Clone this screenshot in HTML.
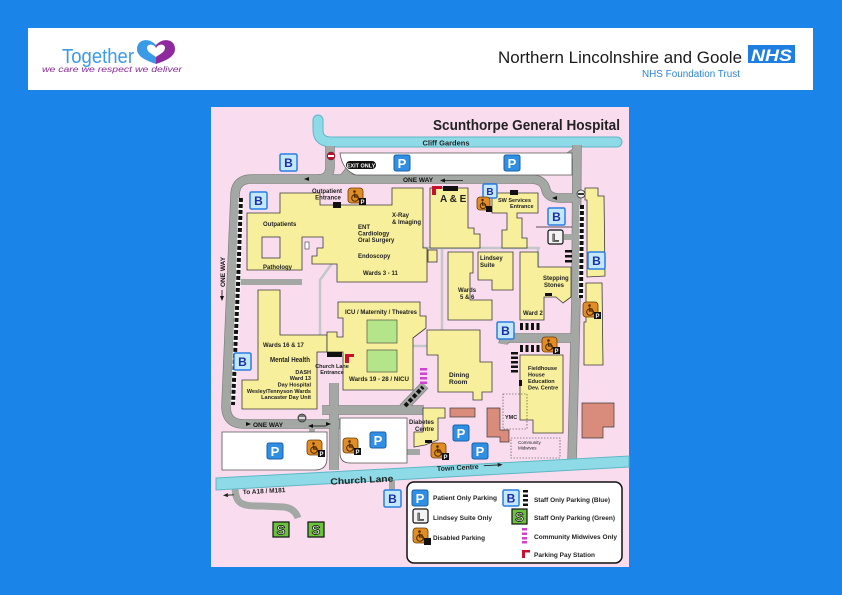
<!DOCTYPE html>
<html><head><meta charset="utf-8">
<style>
html,body{margin:0;padding:0;background:#1b84e8;}
svg{display:block;}
text{font-family:"Liberation Sans",Arial,sans-serif;}
</style></head><body>
<svg width="842" height="595" viewBox="0 0 842 595" xmlns="http://www.w3.org/2000/svg">
<rect width="842" height="595" fill="#1b84e8"/>
<!-- Header -->
<rect x="28" y="28" width="785" height="62" fill="#ffffff"/>
<text x="62" y="63" font-size="20" fill="#3b9be8" textLength="72" lengthAdjust="spacingAndGlyphs">Together</text>
<path d="M156,45 C149,37 137,39 137,49 C137,57 147,61 156,64 Z" fill="#3a9ae6"/>
<path d="M156,45 C163,37 175,39 175,49 C175,57 165,61 156,64 Z" fill="#8e2a9e"/>
<path d="M156,48 C153,43 147,44 147,48 C147,52 152,54 156,57 C160,54 165,52 165,48 C165,44 159,43 156,48 Z" fill="#fff"/>
<text x="42" y="72" font-size="8.5" font-style="italic" fill="#8b2a9b" textLength="140" lengthAdjust="spacingAndGlyphs">we care  we respect  we deliver</text>
<text x="498" y="63" font-size="17" fill="#1a1a1a" textLength="244" lengthAdjust="spacingAndGlyphs">Northern Lincolnshire and Goole</text>
<rect x="748" y="45" width="47" height="18" fill="#1e7fe0"/>
<text x="751" y="61" font-size="17" font-weight="bold" font-style="italic" fill="#fff" textLength="41" lengthAdjust="spacingAndGlyphs">NHS</text>
<text x="642" y="77" font-size="10" fill="#2a83db" textLength="98" lengthAdjust="spacingAndGlyphs">NHS Foundation Trust</text>

<!-- Map background -->
<rect x="211" y="107" width="418" height="460" fill="#f9ddef"/>
<text x="433" y="130" font-size="14.5" font-weight="bold" fill="#222" textLength="187" lengthAdjust="spacingAndGlyphs">Scunthorpe General Hospital</text>

<!-- Cliff Gardens -->
<path d="M318,120 L318,130 Q318,142 332,142 L617,142" fill="none" stroke="#5fb6c6" stroke-width="11" stroke-linecap="round"/>
<path d="M318,120 L318,130 Q318,142 332,142 L617,142" fill="none" stroke="#8edbe7" stroke-width="9" stroke-linecap="round"/>
<text x="446" y="145.5" font-size="7.5" font-weight="bold" fill="#222" text-anchor="middle">Cliff Gardens</text>

<!-- Gray roads -->
<g fill="none" stroke="#7f8481" stroke-width="9.5" stroke-linejoin="round">
<path d="M530,179 L252,179 Q235,179 235,196 L226,406 Q226,424 244,424 L345,424"/>
<path d="M530,179 Q544,179 546,190 Q548,198 560,198 L577,198"/>
<path d="M577,145 L576,300 L572,462"/>
<path d="M330,146 L330,168 Q329,179 318,179"/>
<path d="M343,179 L353,166"/>
<path d="M576,152 L560,163"/>
<path d="M576,338 L512,338 Q504,338 503,344"/>
<path d="M334,383 L334,470"/>
<path d="M322,410 L424,410"/>
<path d="M403,408 L425,385"/>
</g>
<g fill="none" stroke="#a3a8a5" stroke-width="8" stroke-linejoin="round">
<path d="M530,179 L252,179 Q235,179 235,196 L226,406 Q226,424 244,424 L345,424"/>
<path d="M530,179 Q544,179 546,190 Q548,198 560,198 L577,198"/>
<path d="M577,145 L576,300 L572,462"/>
<path d="M330,146 L330,168 Q329,179 318,179"/>
<path d="M343,179 L353,166"/>
<path d="M576,152 L560,163"/>
<path d="M576,338 L512,338 Q504,338 503,344"/>
<path d="M334,383 L334,470"/>
<path d="M322,410 L424,410"/>
<path d="M403,408 L425,385"/>
</g>
<g fill="none" stroke="#a3a8a5" stroke-width="6">
<path d="M234,282 L302,282"/>
<path d="M564,237 L575,237"/>
<path d="M392,474 L392,490"/>
<path d="M405,452 L420,452"/>
<path d="M312,426 L312,436"/>
<path d="M235,486 C235,505 242,506 262,506 L284,507 C292,508 296,512 298,518" stroke-width="7"/>
</g>
<!-- staff dashes along roads -->
<g fill="none">
<path d="M241,198 L238,285 L233,405" stroke="#fff" stroke-width="5"/>
<path d="M241,198 L238,285 L233,405" stroke="#111" stroke-width="4" stroke-dasharray="4 2"/>
<path d="M582,205 L581,298" stroke="#fff" stroke-width="5"/>
<path d="M582,205 L581,298" stroke="#111" stroke-width="4" stroke-dasharray="4 2"/>
<path d="M405,406 L423,387" stroke="#111" stroke-width="4" stroke-dasharray="4 2"/>
</g>

<!-- Parking areas -->
<path d="M340,153 L572,153 L572,175 L356,175 Q342,170 340,153 Z" fill="#fff" stroke="#555" stroke-width="0.8"/>
<path d="M222,432 L327,432 L327,458 Q327,470 315,470 L222,470 Z" fill="#fff" stroke="#555" stroke-width="0.8"/>
<path d="M340,418 L407,418 L407,463 L350,463 Q340,463 340,453 Z" fill="#fff" stroke="#555" stroke-width="0.8"/>

<!-- Church Lane -->
<polygon points="216,478 629,456 629,467 216,490" fill="#8edbe7" stroke="#5fb6c6" stroke-width="1"/>
<g transform="rotate(-3 420 472)">
<text x="242" y="485" font-size="6.5" font-weight="bold" fill="#222">To A18 / M181</text>
<text x="330" y="480" font-size="9" font-weight="bold" fill="#222" textLength="63" lengthAdjust="spacingAndGlyphs">Church Lane</text>
<text x="437" y="472" font-size="7" font-weight="bold" fill="#222">Town Centre</text>
<path d="M484,469 L501,469" stroke="#222" stroke-width="0.9"/>
<polygon points="503,469 498,467 498,471" fill="#222"/>
<path d="M224,485 L233,485" stroke="#222" stroke-width="0.9"/>
<polygon points="222,485 227,483 227,487" fill="#222"/>
</g>

<!-- Corridors -->
<g fill="none" stroke="#c4c7c8" stroke-width="2.5">
<path d="M337,205 L337,227 L348,227 L348,248"/>
<path d="M337,248 L540,248"/>
<path d="M442,248 L442,380"/>
<path d="M513,213 L513,248"/>
<path d="M538,248 L538,275"/>
<path d="M341,251 L320,280 L320,346"/>
<path d="M317,346 L478,346"/>
<path d="M428,248 L428,262"/>
</g>

<!-- Buildings -->
<g fill="#f7ef9b" stroke="#3a3a3a" stroke-width="0.8" stroke-linejoin="miter">
<polygon points="280,193 320,193 320,205 392,205 392,188 423,188 423,248 427,248 427,282 337,282 337,264 312,264 312,256 317,256 317,248 323,248 323,237 302,237 302,270 247,270 247,213 280,213"/>
<polygon points="430,188 468,188 468,228 474,228 474,234 480,234 480,248 430,248"/>
<rect x="428" y="250" width="9" height="12"/>
<polygon points="492,193 538,193 538,213 517,213 517,218 522,218 522,238 527,238 527,248 502,248 502,230 507,230 507,213 492,213"/>
<polygon points="478,252 513,252 513,290 492,290 492,280 478,280"/>
<polygon points="448,252 473,252 473,273 470,273 470,300 492,300 492,320 448,320"/>
<polygon points="520,252 538,252 538,267 571,267 571,297 563,303 556,297 544,297 544,320 520,320"/>
<polygon points="585,188 598,188 598,196 604,196 605,276 587,277 587,200 585,200"/>
<polygon points="586,283 602,283 603,365 584,365 584,322 586,322"/>
<polygon points="258,290 280,290 280,335 327,335 327,352 317,352 317,409 242,409 242,380 258,380"/>
<polygon points="338,302 420,302 420,316 426,316 426,328 413,338 413,390 343,390 343,352 327,352 327,332 337,332 337,337 343,337 343,318 338,318"/>
<polygon points="427,330 480,330 480,362 492,362 492,392 482,392 482,400 473,400 473,392 438,392 438,355 427,355"/>
<polygon points="520,355 563,355 563,433 533,433 533,420 520,420"/>
<polygon points="423,408 445,408 445,418 438,418 438,440 425,445 414,447 414,432 423,432"/>
</g>
<rect x="262" y="237" width="18" height="21" fill="#f9ddef" stroke="#3a3a3a" stroke-width="0.8"/>
<rect x="305" y="242" width="4" height="7" fill="#fff" stroke="#3a3a3a" stroke-width="0.6"/>
<!-- green courtyards -->
<rect x="367" y="320" width="30" height="23" fill="#b5e58a" stroke="#3a3a3a" stroke-width="0.6"/>
<rect x="367" y="350" width="30" height="22" fill="#b5e58a" stroke="#3a3a3a" stroke-width="0.6"/>
<!-- salmon buildings -->
<g fill="#d98c7c" stroke="#3a3a3a" stroke-width="0.7">
<rect x="450" y="408" width="25" height="9"/>
<polygon points="487,408 500,408 500,430 509,430 509,442 500,442 500,437 487,437"/>
<polygon points="582,403 614,403 614,427 603,427 603,438 582,438"/>
</g>
<!-- dotted boxes -->
<rect x="503" y="394" width="24" height="35" fill="none" stroke="#333" stroke-width="0.6" stroke-dasharray="1.5 1.5"/>
<rect x="511" y="438" width="49" height="20" fill="none" stroke="#333" stroke-width="0.6" stroke-dasharray="1.5 1.5"/>
<line x1="536" y1="227" x2="572" y2="227" stroke="#222" stroke-width="0.7"/>

<!-- staff bars -->
<g fill="#111">
<rect x="565" y="250" width="7" height="2.5"/><rect x="565" y="255" width="7" height="2.5"/><rect x="565" y="260" width="7" height="2.5"/>
<rect x="520" y="323" width="3" height="7"/><rect x="525.5" y="323" width="3" height="7"/><rect x="531" y="323" width="3" height="7"/><rect x="536.5" y="323" width="3" height="7"/>
<rect x="520" y="345" width="3" height="7"/><rect x="525.5" y="345" width="3" height="7"/><rect x="531" y="345" width="3" height="7"/><rect x="536.5" y="345" width="3" height="7"/>
<rect x="511" y="352" width="7" height="2.5"/><rect x="511" y="356.5" width="7" height="2.5"/><rect x="511" y="361" width="7" height="2.5"/><rect x="511" y="365.5" width="7" height="2.5"/><rect x="511" y="370" width="7" height="2.5"/>
<!-- entrances -->
<rect x="443" y="186" width="15" height="5"/>
<rect x="333" y="202" width="8" height="6"/>
<rect x="510" y="190" width="8" height="5"/>
<rect x="327" y="352" width="15" height="5"/>
<rect x="425" y="440" width="7" height="3"/>
<rect x="545" y="293" width="7" height="3"/>
<rect x="519" y="380" width="3" height="6"/>
</g>
<!-- magenta midwives -->
<g fill="#d23fd2">
<rect x="420" y="368" width="7" height="2.5"/><rect x="420" y="372.5" width="7" height="2.5"/><rect x="420" y="377" width="7" height="2.5"/><rect x="420" y="381.5" width="7" height="2.5"/>
</g>
<!-- pay stations -->
<g fill="#c8102e">
<rect x="432" y="186" width="4" height="9"/><rect x="432" y="186" width="10" height="3"/>
<rect x="345" y="354" width="4" height="9"/><rect x="345" y="354" width="9" height="3"/>
</g>
<!-- no entry signs -->
<circle cx="331" cy="156" r="4" fill="#c8102e" stroke="#333" stroke-width="0.5"/><rect x="328" y="155" width="6" height="2" fill="#fff"/>
<circle cx="581" cy="194" r="4" fill="#eee" stroke="#333" stroke-width="0.8"/><rect x="578" y="193" width="6" height="2" fill="#333"/>
<circle cx="302" cy="418" r="4" fill="#777" stroke="#333" stroke-width="0.8"/><rect x="299" y="417" width="6" height="2" fill="#ddd"/>

<!-- EXIT ONLY -->
<rect x="346" y="161" width="30" height="8" rx="4" fill="#111"/>
<text x="361" y="167.3" font-size="5.5" font-weight="bold" fill="#fff" text-anchor="middle">EXIT ONLY</text>

<!-- ONE WAY labels -->
<text x="403" y="182" font-size="6.5" font-weight="bold" fill="#111">ONE WAY</text>
<path d="M442,180.5 L463,180.5" stroke="#111" stroke-width="0.8"/><polygon points="440,180.5 445,178.5 445,182.5" fill="#111"/>
<polygon points="304,179 309,177 309,181" fill="#111"/>
<polygon points="552,198 557,196 557,200" fill="#111"/>
<text x="253" y="427" font-size="6.5" font-weight="bold" fill="#111">ONE WAY</text>
<polygon points="251,424 246,422 246,426" fill="#111"/>
<path d="M310,426 L326,426" stroke="#111" stroke-width="0.8"/><polygon points="308,426 313,424 313,428" fill="#111"/>
<polygon points="331,424 326,422 326,426" fill="#111"/>
<text transform="translate(225,287) rotate(-90)" font-size="6.5" font-weight="bold" fill="#111">ONE WAY</text>
<path d="M222,290 L222,299" stroke="#111" stroke-width="0.8"/><polygon points="222,301 220,296 224,296" fill="#111"/>

<!-- Building labels -->
<g font-size="6" font-weight="bold" fill="#222">
<text x="327" y="193" text-anchor="middle">Outpatient</text>
<text x="328" y="199.5" text-anchor="middle">Entrance</text>
<text x="263" y="226">Outpatients</text>
<text x="263" y="269">Pathology</text>
<text x="392" y="217">X-Ray</text>
<text x="392" y="224">&amp; Imaging</text>
<text x="358" y="229">ENT</text>
<text x="358" y="235.5">Cardiology</text>
<text x="358" y="242">Oral Surgery</text>
<text x="358" y="258">Endoscopy</text>
<text x="363" y="275">Wards 3 - 11</text>
<text x="440" y="202" font-size="10">A &amp; E</text>
<text x="498" y="202" font-size="5.5">SW Services</text>
<text x="510" y="208" font-size="5.5">Entrance</text>
<text x="480" y="260">Lindsey</text>
<text x="480" y="267">Suite</text>
<text x="458" y="292">Wards</text>
<text x="460" y="299">5 &amp; 6</text>
<text x="543" y="280">Stepping</text>
<text x="544" y="287">Stones</text>
<text x="523" y="315">Ward 2</text>
<text x="345" y="314" textLength="72" lengthAdjust="spacingAndGlyphs">ICU / Maternity / Theatres</text>
<text x="263" y="347">Wards 16 &amp; 17</text>
<text x="270" y="362" font-size="7.5" textLength="40" lengthAdjust="spacingAndGlyphs">Mental Health</text>
<text x="311" y="374" text-anchor="end" font-size="5.5">DASH</text>
<text x="311" y="380" text-anchor="end" font-size="5.5">Ward 13</text>
<text x="311" y="386.5" text-anchor="end" font-size="5.5">Day Hospital</text>
<text x="311" y="393" text-anchor="end" font-size="5.5">Wesley/Tennyson Wards</text>
<text x="311" y="399" text-anchor="end" font-size="5.5">Lancaster Day Unit</text>
<text x="332" y="368" text-anchor="middle" font-size="5.5">Church Lane</text>
<text x="332" y="374" text-anchor="middle" font-size="5.5">Entrance</text>
<text x="349" y="381" textLength="60" lengthAdjust="spacingAndGlyphs">Wards 19 - 28 / NICU</text>
<text x="449" y="377" font-size="6.5">Dining</text>
<text x="449" y="384" font-size="6.5">Room</text>
<text x="528" y="370" font-size="5.5">Fieldhouse</text>
<text x="528" y="376.5" font-size="5.5">House</text>
<text x="528" y="383" font-size="5.5">Education</text>
<text x="528" y="389.5" font-size="5.5">Dev. Centre</text>
<text x="505" y="419" font-size="5.5">YMC</text>
<text x="518" y="444" font-size="4.5" font-weight="normal">Community</text>
<text x="518" y="449.5" font-size="4.5" font-weight="normal">Midwives</text>
<text x="409" y="424">Diabetes</text>
<text x="415" y="431">Centre</text>
</g>

<!-- P signs -->
<g font-size="13" font-weight="bold" fill="#fff" text-anchor="middle">
<g transform="translate(394,155)"><rect width="16" height="16" rx="2" fill="#2f8fe3" stroke="#1c5fa8"/><text x="8" y="13">P</text></g>
<g transform="translate(504,155)"><rect width="16" height="16" rx="2" fill="#2f8fe3" stroke="#1c5fa8"/><text x="8" y="13">P</text></g>
<g transform="translate(267,443)"><rect width="16" height="16" rx="2" fill="#2f8fe3" stroke="#1c5fa8"/><text x="8" y="13">P</text></g>
<g transform="translate(370,432)"><rect width="16" height="16" rx="2" fill="#2f8fe3" stroke="#1c5fa8"/><text x="8" y="13">P</text></g>
<g transform="translate(453,425)"><rect width="16" height="16" rx="2" fill="#2f8fe3" stroke="#1c5fa8"/><text x="8" y="13">P</text></g>
<g transform="translate(472,443)"><rect width="16" height="16" rx="2" fill="#2f8fe3" stroke="#1c5fa8"/><text x="8" y="13">P</text></g>
</g>

<!-- B signs -->
<g font-size="12" font-weight="bold" fill="#1b2fa6" text-anchor="middle">
<g transform="translate(280,154)"><rect width="17" height="17" rx="1.5" fill="#c4e8fa" stroke="#2a7de1" stroke-width="1.5"/><text x="8.5" y="13">B</text></g>
<g transform="translate(250,192)"><rect width="17" height="17" rx="1.5" fill="#c4e8fa" stroke="#2a7de1" stroke-width="1.5"/><text x="8.5" y="13">B</text></g>
<g transform="translate(483,184)"><rect width="14" height="14" rx="1.5" fill="#c4e8fa" stroke="#2a7de1" stroke-width="1.5"/><text x="7" y="11" font-size="10">B</text></g>
<g transform="translate(548,208)"><rect width="17" height="17" rx="1.5" fill="#c4e8fa" stroke="#2a7de1" stroke-width="1.5"/><text x="8.5" y="13">B</text></g>
<g transform="translate(588,252)"><rect width="17" height="17" rx="1.5" fill="#c4e8fa" stroke="#2a7de1" stroke-width="1.5"/><text x="8.5" y="13">B</text></g>
<g transform="translate(497,322)"><rect width="17" height="17" rx="1.5" fill="#c4e8fa" stroke="#2a7de1" stroke-width="1.5"/><text x="8.5" y="13">B</text></g>
<g transform="translate(234,353)"><rect width="17" height="17" rx="1.5" fill="#c4e8fa" stroke="#2a7de1" stroke-width="1.5"/><text x="8.5" y="13">B</text></g>
<g transform="translate(384,490)"><rect width="17" height="17" rx="1.5" fill="#c4e8fa" stroke="#2a7de1" stroke-width="1.5"/><text x="8.5" y="13">B</text></g>
</g>

<!-- L sign -->
<g transform="translate(548,230)"><rect width="15" height="14" rx="2" fill="#f2f2f2" stroke="#111" stroke-width="1.2"/><text x="7.5" y="11.5" font-size="11" font-weight="bold" fill="#999" stroke="#111" stroke-width="0.6" text-anchor="middle">L</text></g>

<!-- Disabled signs (drawn wheelchair) -->
<g>
<g transform="translate(348,188)"><rect width="15" height="15" rx="3" fill="#e08d25" stroke="#6a3c08" stroke-width="0.8"/><circle cx="6.5" cy="3.5" r="1.3" fill="#4a2800"/><path d="M6.5,5.5 L6.5,9 L10,9 L11.5,12.5 M6.5,7 L9.5,7" fill="none" stroke="#4a2800" stroke-width="1.2"/><circle cx="7" cy="10" r="3.3" fill="none" stroke="#4a2800" stroke-width="1"/><rect x="11" y="10" width="7" height="7" fill="#111"/><text x="14.5" y="16" font-size="6" font-weight="bold" fill="#fff" text-anchor="middle">P</text></g>
<g transform="translate(477,197)"><rect width="13" height="13" rx="3" fill="#e08d25" stroke="#6a3c08" stroke-width="0.8"/><circle cx="5.5" cy="3" r="1.2" fill="#4a2800"/><path d="M5.5,4.8 L5.5,8 L8.5,8 L9.5,10.5" fill="none" stroke="#4a2800" stroke-width="1.1"/><circle cx="6" cy="8.8" r="2.8" fill="none" stroke="#4a2800" stroke-width="0.9"/><rect x="9" y="9" width="6" height="6" fill="#111"/></g>
<g transform="translate(583,302)"><rect width="15" height="15" rx="3" fill="#e08d25" stroke="#6a3c08" stroke-width="0.8"/><circle cx="6.5" cy="3.5" r="1.3" fill="#4a2800"/><path d="M6.5,5.5 L6.5,9 L10,9 L11.5,12.5 M6.5,7 L9.5,7" fill="none" stroke="#4a2800" stroke-width="1.2"/><circle cx="7" cy="10" r="3.3" fill="none" stroke="#4a2800" stroke-width="1"/><rect x="11" y="10" width="7" height="7" fill="#111"/><text x="14.5" y="16" font-size="6" font-weight="bold" fill="#fff" text-anchor="middle">P</text></g>
<g transform="translate(542,337)"><rect width="15" height="15" rx="3" fill="#e08d25" stroke="#6a3c08" stroke-width="0.8"/><circle cx="6.5" cy="3.5" r="1.3" fill="#4a2800"/><path d="M6.5,5.5 L6.5,9 L10,9 L11.5,12.5 M6.5,7 L9.5,7" fill="none" stroke="#4a2800" stroke-width="1.2"/><circle cx="7" cy="10" r="3.3" fill="none" stroke="#4a2800" stroke-width="1"/><rect x="11" y="10" width="7" height="7" fill="#111"/><text x="14.5" y="16" font-size="6" font-weight="bold" fill="#fff" text-anchor="middle">P</text></g>
<g transform="translate(307,440)"><rect width="15" height="15" rx="3" fill="#e08d25" stroke="#6a3c08" stroke-width="0.8"/><circle cx="6.5" cy="3.5" r="1.3" fill="#4a2800"/><path d="M6.5,5.5 L6.5,9 L10,9 L11.5,12.5 M6.5,7 L9.5,7" fill="none" stroke="#4a2800" stroke-width="1.2"/><circle cx="7" cy="10" r="3.3" fill="none" stroke="#4a2800" stroke-width="1"/><rect x="11" y="10" width="7" height="7" fill="#111"/><text x="14.5" y="16" font-size="6" font-weight="bold" fill="#fff" text-anchor="middle">P</text></g>
<g transform="translate(343,438)"><rect width="15" height="15" rx="3" fill="#e08d25" stroke="#6a3c08" stroke-width="0.8"/><circle cx="6.5" cy="3.5" r="1.3" fill="#4a2800"/><path d="M6.5,5.5 L6.5,9 L10,9 L11.5,12.5 M6.5,7 L9.5,7" fill="none" stroke="#4a2800" stroke-width="1.2"/><circle cx="7" cy="10" r="3.3" fill="none" stroke="#4a2800" stroke-width="1"/><rect x="11" y="10" width="7" height="7" fill="#111"/><text x="14.5" y="16" font-size="6" font-weight="bold" fill="#fff" text-anchor="middle">P</text></g>
<g transform="translate(431,443)"><rect width="15" height="15" rx="3" fill="#e08d25" stroke="#6a3c08" stroke-width="0.8"/><circle cx="6.5" cy="3.5" r="1.3" fill="#4a2800"/><path d="M6.5,5.5 L6.5,9 L10,9 L11.5,12.5 M6.5,7 L9.5,7" fill="none" stroke="#4a2800" stroke-width="1.2"/><circle cx="7" cy="10" r="3.3" fill="none" stroke="#4a2800" stroke-width="1"/><rect x="11" y="10" width="7" height="7" fill="#111"/><text x="14.5" y="16" font-size="6" font-weight="bold" fill="#fff" text-anchor="middle">P</text></g>
</g>

<!-- S signs -->
<g font-size="13" font-weight="bold" fill="#fff" stroke="#111" stroke-width="0.8" text-anchor="middle">
<g transform="translate(273,522)"><rect width="16" height="15" fill="#6bc33d" stroke-width="1.2"/><text x="8" y="12.5">S</text></g>
<g transform="translate(308,522)"><rect width="16" height="15" fill="#6bc33d" stroke-width="1.2"/><text x="8" y="12.5">S</text></g>
</g>

<!-- Legend -->
<rect x="407" y="482" width="215" height="81" rx="7" fill="#fff" stroke="#111" stroke-width="1.5"/>
<g transform="translate(412,490)"><rect width="16" height="16" rx="2" fill="#2f8fe3" stroke="#1c5fa8"/><text x="8" y="13" font-size="13" font-weight="bold" fill="#fff" text-anchor="middle">P</text></g>
<g transform="translate(413,509)"><rect width="15" height="14" rx="2" fill="#f2f2f2" stroke="#111" stroke-width="1.2"/><text x="7.5" y="11.5" font-size="11" font-weight="bold" fill="#999" stroke="#111" stroke-width="0.6" text-anchor="middle">L</text></g>
<g transform="translate(413,528)"><rect width="15" height="15" rx="3" fill="#e08d25" stroke="#6a3c08" stroke-width="0.8"/><circle cx="6.5" cy="3.5" r="1.3" fill="#4a2800"/><path d="M6.5,5.5 L6.5,9 L10,9 L11.5,12.5 M6.5,7 L9.5,7" fill="none" stroke="#4a2800" stroke-width="1.2"/><circle cx="7" cy="10" r="3.3" fill="none" stroke="#4a2800" stroke-width="1"/><rect x="11" y="10" width="7" height="7" fill="#111"/></g>
<g transform="translate(503,490)"><rect width="16" height="16" rx="1.5" fill="#c4e8fa" stroke="#2a7de1" stroke-width="1.5"/><text x="8" y="12.5" font-size="12" font-weight="bold" fill="#1b2fa6" text-anchor="middle">B</text></g>
<g fill="#111"><rect x="523" y="490" width="5" height="2.5"/><rect x="523" y="494.5" width="5" height="2.5"/><rect x="523" y="499" width="5" height="2.5"/><rect x="523" y="503.5" width="5" height="2.5"/></g>
<g transform="translate(512,509)"><rect width="15" height="15" fill="#6bc33d" stroke="#111" stroke-width="1.2"/><text x="7.5" y="12.5" font-size="13" font-weight="bold" fill="#fff" stroke="#111" stroke-width="0.8" text-anchor="middle">S</text></g>
<g fill="#d23fd2"><rect x="522" y="528" width="5" height="2.5"/><rect x="522" y="532.5" width="5" height="2.5"/><rect x="522" y="537" width="5" height="2.5"/><rect x="522" y="541" width="5" height="2.5"/></g>
<g fill="#c8102e"><rect x="522" y="550" width="3" height="8"/><rect x="522" y="550" width="8" height="2.5"/></g>
<g font-size="6.5" font-weight="bold" fill="#222">
<text x="433" y="500" textLength="64" lengthAdjust="spacingAndGlyphs">Patient Only Parking</text>
<text x="433" y="520" textLength="59" lengthAdjust="spacingAndGlyphs">Lindsey Suite Only</text>
<text x="433" y="540" textLength="52" lengthAdjust="spacingAndGlyphs">Disabled Parking</text>
<text x="534" y="502" textLength="76" lengthAdjust="spacingAndGlyphs">Staff Only Parking (Blue)</text>
<text x="534" y="520" textLength="81" lengthAdjust="spacingAndGlyphs">Staff Only Parking (Green)</text>
<text x="534" y="539" textLength="83" lengthAdjust="spacingAndGlyphs">Community Midwives Only</text>
<text x="534" y="557" textLength="61" lengthAdjust="spacingAndGlyphs">Parking Pay Station</text>
</g>
</svg>
</body></html>
